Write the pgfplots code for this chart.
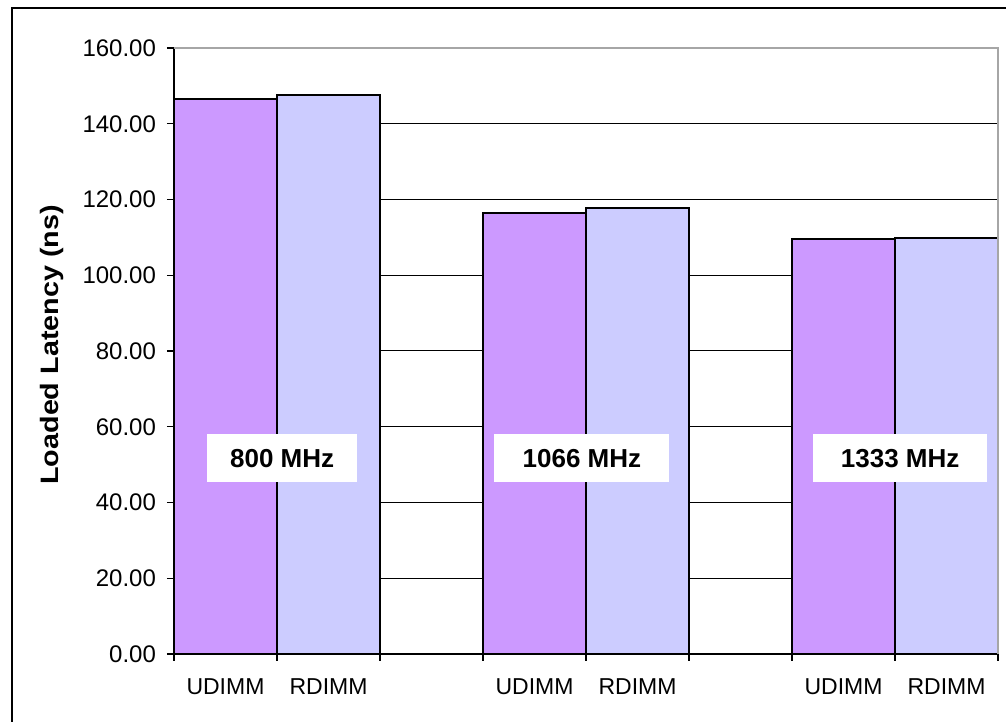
\documentclass[border=0pt]{standalone}
\usepackage{pgfplots}
\pgfplotsset{compat=1.18}
\usepackage{fontspec}
\setmainfont{Liberation Sans}
\definecolor{udimm}{HTML}{CC99FF}
\definecolor{rdimm}{HTML}{CCCCFF}
\begin{document}
\begin{tikzpicture}
\useasboundingbox (0,0) rectangle (503pt,361pt);
% outer chart frame (cut off at right and bottom as in the reference)
\draw[line width=1pt] (5.75pt,-20pt) -- (5.75pt,356.75pt) -- (530pt,356.75pt);
\begin{axis}[
    at={(87pt,34pt)}, anchor=south west,
    width=412pt, height=303pt, scale only axis,
    xmin=0, xmax=8, ymin=0, ymax=160,
    axis x line*=bottom, axis y line*=left,
    axis line style={line width=0.8pt, -},
    tick align=outside,
    major tick length=3.5pt,
    tick style={black, line width=0.6pt},
    xtick={0,...,8},
    xticklabels={,,,,,,,,,},
    extra x ticks={0.5,1.5,3.5,4.5,6.5,7.5},
    extra x tick labels={UDIMM,RDIMM,UDIMM,RDIMM,UDIMM,RDIMM},
    extra x tick style={major tick length=0pt,
        tick label style={font=\fontsize{11.5}{14}\selectfont, yshift=-9pt}},
    ytick={0,20,...,160},
    yticklabel style={font=\fontsize{12}{14}\selectfont, xshift=-2pt,
        /pgf/number format/.cd, fixed, fixed zerofill, precision=2, assume math mode=true},
    ymajorgrids,
    major grid style={black, line width=0.5pt},
    ylabel={\scalebox{1.14}[1]{Loaded Latency (ns)}},
    every axis y label/.style={at={(axis description cs:-0.148,0.51)}, rotate=90, anchor=center,
        font=\bfseries\fontsize{12.6}{14}\selectfont},
    clip=false,
]
\addplot[ybar, bar width=1, bar shift=0, fill=udimm, draw=black, line width=0.8pt]
    coordinates {(0.5,146.5) (3.5,116.4) (6.5,109.5)};
\addplot[ybar, bar width=1, bar shift=0, fill=rdimm, draw=black, line width=0.8pt]
    coordinates {(1.5,147.6) (4.5,117.8) (7.5,109.9)};
\draw[gray!70, line width=0.8pt] (rel axis cs:0,1) -- (rel axis cs:1,1) -- (rel axis cs:1,0);
\tikzset{mhz/.style={fill=white, inner sep=0pt, minimum height=24pt,
    font=\bfseries\fontsize{13}{15}\selectfont}}
\node[mhz, minimum width=75pt] at (axis cs:1.05,51.7) {800 MHz};
\node[mhz, minimum width=87.5pt] at (axis cs:3.96,51.7) {1066 MHz};
\node[mhz, minimum width=87pt] at (axis cs:7.05,51.7) {1333 MHz};
\end{axis}
\end{tikzpicture}
\end{document}
